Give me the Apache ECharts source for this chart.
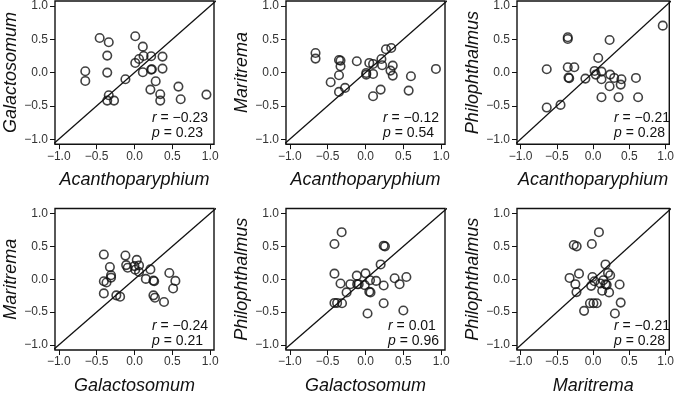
<!DOCTYPE html>
<html><head><meta charset="utf-8">
<script src="https://cdn.jsdelivr.net/npm/echarts@6/dist/echarts.min.js"></script>
<style>html,body{margin:0;padding:0;background:#fff}#c{width:677px;height:396px}</style>
</head><body><div id="c"></div>
<script>
// ---- data ----
const xNames = ['Acanthoparyphium','Acanthoparyphium','Acanthoparyphium','Galactosomum','Galactosomum','Maritrema'];
const yNames = ['Galactosomum','Maritrema','Philophthalmus','Maritrema','Philophthalmus','Philophthalmus'];
const rValues = ['\u22120.23','\u22120.12','\u22120.21','\u22120.24','0.01','\u22120.21'];
const pValues = ['0.23','0.54','0.28','0.21','0.96','0.28'];
const tickValues = [-1, -0.5, 0, 0.5, 1];
const diagonal = [[-1.2,-1.2],[1.2,1.2]];

const acanGal = [[-0.46,0.52],[-0.34,0.455],[-0.36,0.255],[-0.36,0.0],[-0.65,0.02],[-0.65,-0.125],[-0.12,-0.10],[-0.34,-0.34],[-0.36,-0.42],[-0.27,-0.42],[0.01,0.545],[0.11,0.39],[0.01,0.145],[0.06,0.205],[0.12,0.25],[0.11,0.005],[0.22,0.245],[0.22,0.045],[0.23,0.05],[0.37,0.24],[0.37,0.06],[0.28,-0.13],[0.21,-0.255],[0.34,-0.325],[0.34,-0.42],[0.58,-0.21],[0.61,-0.40],[0.95,-0.33]];
const acanMar = [[-0.66,0.295],[-0.66,0.21],[-0.35,0.19],[-0.33,0.18],[-0.33,0.095],[-0.35,-0.04],[-0.46,-0.145],[-0.35,-0.29],[-0.27,-0.23],[-0.115,0.17],[0.05,0.145],[0.10,0.13],[0.01,-0.005],[0.01,-0.03],[0.10,-0.02],[0.10,-0.355],[0.21,0.205],[0.22,0.11],[0.27,0.35],[0.34,0.37],[0.33,0.03],[0.36,0.105],[0.36,-0.045],[0.20,-0.255],[0.57,-0.27],[0.60,-0.055],[0.93,0.055]];
const acanPhi = [[0.96,0.705],[0.227,0.49],[0.07,0.22],[-0.35,0.53],[-0.35,0.505],[-0.64,0.05],[-0.35,0.08],[-0.26,0.08],[-0.33,-0.085],[-0.34,-0.075],[-0.107,-0.09],[0.02,0.025],[0.036,-0.03],[0.115,0.015],[0.115,-0.10],[0.235,-0.03],[0.29,-0.08],[0.39,-0.10],[0.38,-0.18],[0.227,-0.205],[0.115,-0.37],[0.35,-0.37],[0.59,-0.08],[0.62,-0.37],[-0.64,-0.525],[-0.45,-0.485]];
const galMar = [[-0.405,0.375],[-0.325,0.185],[-0.31,0.06],[-0.31,0.025],[-0.405,-0.03],[-0.37,-0.05],[-0.405,-0.215],[-0.24,-0.245],[-0.19,-0.265],[-0.12,0.36],[-0.11,0.215],[-0.09,0.175],[0.0,0.2],[0.03,0.295],[0.01,0.145],[0.06,0.21],[0.06,0.11],[0.15,0.005],[0.21,0.15],[0.25,-0.02],[0.26,-0.03],[0.25,-0.245],[0.27,-0.28],[0.39,-0.345],[0.46,0.095],[0.54,-0.025],[0.51,-0.14]];
const galPhi = [[-0.315,0.715],[-0.41,0.535],[-0.41,0.085],[-0.33,-0.065],[-0.2,-0.075],[-0.115,0.055],[-0.11,-0.075],[-0.09,-0.075],[-0.25,-0.2],[-0.41,-0.36],[-0.375,-0.36],[-0.31,-0.365],[0.0,0.09],[-0.01,-0.09],[0.06,-0.015],[0.05,-0.19],[0.066,-0.2],[0.14,-0.025],[0.20,0.225],[0.24,0.51],[0.257,0.50],[0.24,-0.095],[0.24,-0.365],[0.027,-0.52],[0.385,0.015],[0.45,-0.075],[0.54,0.035],[0.50,-0.475]];
const marPhi = [[0.08,0.715],[-0.018,0.535],[-0.267,0.52],[-0.227,0.50],[-0.325,0.02],[-0.195,0.085],[-0.245,-0.075],[-0.23,-0.195],[-0.01,0.035],[-0.027,-0.1],[0.018,-0.03],[-0.044,-0.365],[0.004,-0.365],[0.05,-0.365],[-0.125,-0.48],[0.10,-0.065],[0.14,-0.015],[0.17,-0.075],[0.187,-0.085],[0.125,-0.175],[0.22,-0.2],[0.17,0.225],[0.205,0.095],[0.235,0.06],[0.365,-0.08],[0.38,-0.355],[0.30,-0.52]];

const panels = [acanGal, acanMar, acanPhi, galMar, galPhi, marPhi];

// ---- layout ----
const FONT = '"Liberation Sans", Arial, Helvetica, sans-serif';
const colLeft = [55, 286, 517], rowTop = [0.7, 208.5], W = 159, H = 143.5;
const XR = 1.05, YR = 1.075;
const INK = '#111';

const chart = echarts.init(document.getElementById('c'), null, {renderer: 'canvas'});
const fmt = v => (v < 0 ? '\u2212' : '') + Math.abs(v).toFixed(1);
const ctx = document.createElement('canvas').getContext('2d');
function lineWidth(letter, rest) {
  ctx.font = 'italic 14px ' + FONT;
  const a = ctx.measureText(letter).width;
  ctx.font = '14px ' + FONT;
  return a + ctx.measureText(rest).width;
}

const grids = [], xAxes = [], yAxes = [], series = [], graphics = [];
panels.forEach((data, i) => {
  const col = i % 3, row = Math.floor(i / 3);
  const L = colLeft[col], T = rowTop[row];
  grids.push({left: L, top: T, width: W, height: H, show: true, borderColor: INK, borderWidth: 1.4, backgroundColor: 'transparent'});
  const common = {
    gridIndex: i, type: 'value', nameLocation: 'middle',
    nameTextStyle: {fontFamily: FONT, fontSize: 18, fontStyle: 'italic', color: INK},
    axisLine: {show: false, onZero: false},
    axisTick: {show: true, length: 5, customValues: tickValues, lineStyle: {color: INK, width: 1}},
    axisLabel: {customValues: tickValues, formatter: fmt, fontFamily: FONT, fontSize: 12, color: '#333'},
    splitLine: {show: false}
  };
  xAxes.push(Object.assign({}, common, {min: -XR, max: XR, name: xNames[i], nameGap: 27,
    axisLabel: Object.assign({}, common.axisLabel, {margin: 6})}));
  yAxes.push(Object.assign({}, common, {min: -YR, max: YR, name: yNames[i], nameGap: 34,
    axisLabel: Object.assign({}, common.axisLabel, {margin: 7})}));
  series.push({type: 'line', xAxisIndex: i, yAxisIndex: i, data: diagonal, symbol: 'none', clip: true,
    lineStyle: {color: INK, width: 1.3}, silent: true, z: 1});
  series.push({type: 'scatter', xAxisIndex: i, yAxisIndex: i, data: data, symbol: 'circle', symbolSize: 8.5,
    itemStyle: {color: 'rgba(0,0,0,0)', borderColor: INK, borderWidth: 1.6}, silent: true, z: 2});
  const rRest = ' = ' + rValues[i], pRest = ' = ' + pValues[i];
  const mw = Math.max(lineWidth('r', rRest), lineWidth('p', pRest));
  const x = L + W - 6 - mw;
  const rich = {i: {fontStyle: 'italic', fontFamily: FONT, fontSize: 14, fill: INK}};
  [['r', rRest, T + H - 26], ['p', pRest, T + H - 11]].forEach(([lt, rest, y]) => {
    graphics.push({type: 'text', x: x, y: y, silent: true, z: 10,
      style: {text: '{i|' + lt + '}' + rest, rich: rich, fontFamily: FONT, fontSize: 14, fill: INK, align: 'left', verticalAlign: 'middle'}});
  });
});

chart.setOption({
  animation: false,
  backgroundColor: '#fff',
  grid: grids, xAxis: xAxes, yAxis: yAxes, series: series, graphic: graphics
});
</script></body></html>
